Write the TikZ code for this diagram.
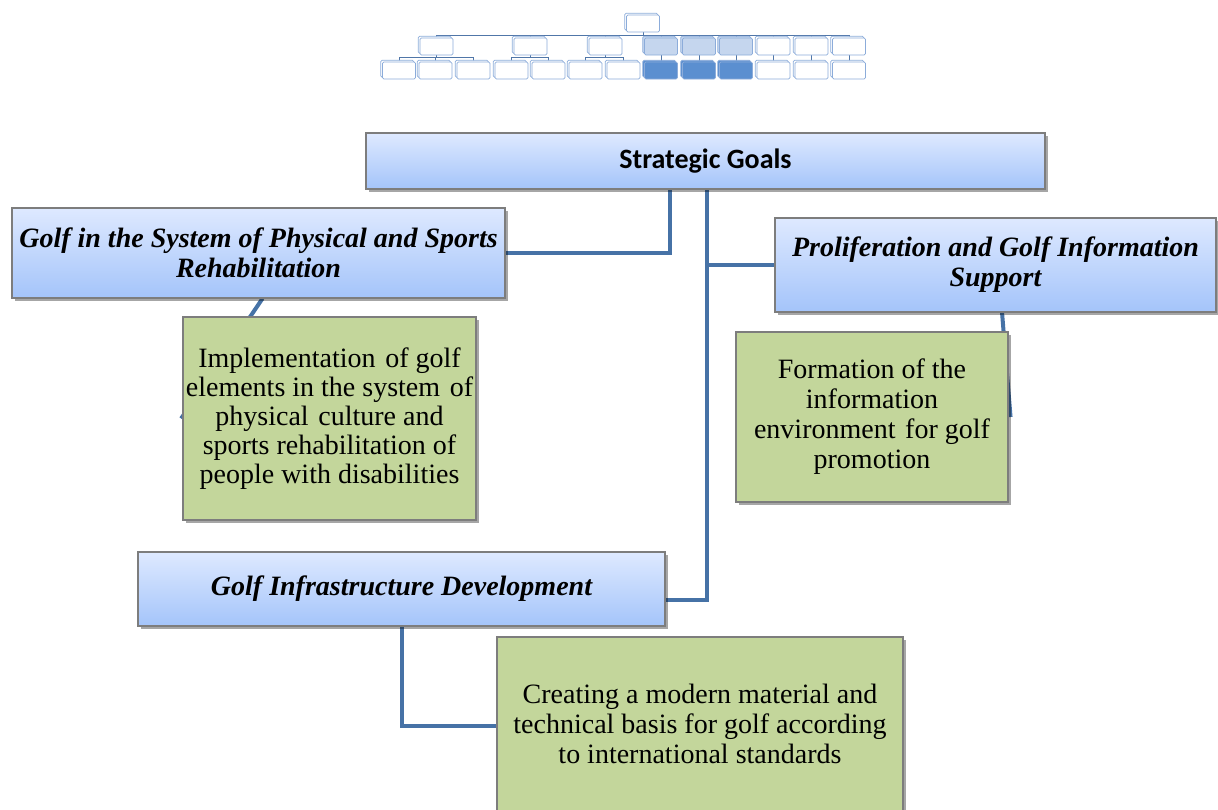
\documentclass[tikz,border=0pt]{standalone}
\usepackage{fontspec}
\setmainfont{Liberation Serif}
\newfontfamily\carlitofont{Carlito}
\usetikzlibrary{shadows,backgrounds}
\definecolor{conn}{RGB}{70,114,166}
\definecolor{topblue}{RGB}{222,233,255}
\definecolor{botblue}{RGB}{164,196,250}
\definecolor{boxline}{RGB}{125,125,125}
\definecolor{greenfill}{RGB}{195,214,155}
\definecolor{minib}{RGB}{140,172,218}
\definecolor{minilight}{RGB}{197,214,238}
\definecolor{minidark}{RGB}{91,143,208}
\definecolor{miniline}{RGB}{80,118,168}
\tikzset{
  bluebox/.style={draw=boxline, line width=0.8pt, top color=topblue, bottom color=botblue,
    inner sep=0pt, align=center,
    drop shadow={shadow xshift=2pt, shadow yshift=-2pt, opacity=0.35, fill=black}},
  greenbox/.style={draw=boxline, line width=0.8pt, fill=greenfill, inner sep=0pt, align=center,
    font=\fontsize{21}{22.5}\selectfont,
    drop shadow={shadow xshift=2pt, shadow yshift=-2pt, opacity=0.35, fill=black}},
  titlefont/.style={font=\fontsize{21}{22.5}\selectfont\bfseries\itshape},
  conn/.style={draw=conn, line width=3pt},
  minibox/.style={draw=minib, line width=0.6pt, fill=white, rounded corners=1pt,
    minimum width=24.75pt, minimum height=12.75pt, inner sep=0pt,
    copy shadow={shadow xshift=-1.3pt, shadow yshift=1.3pt}},
  minicon/.style={draw=miniline, line width=0.7pt}
}
\begin{document}
\begin{tikzpicture}[x=0.75pt,y=-0.75pt]
\path[use as bounding box] (0,0) rectangle (1218,810);

% ---- mini org chart ----
\node[minibox] (m0) at (643,23.5) {};
\foreach \i/\x in {1/436.5,2/530.5,3/605.5,7/773.5,8/811.5,9/849}{
  \node[minibox] (a\i) at (\x,46.5) {};
}
\foreach \i/\x in {4/661,5/699,6/736}{
  \node[minibox, fill=minilight] (a\i) at (\x,46.5) {};
}
\foreach \j/\x in {1/399,2/435.5,3/473.5,4/511.5,5/548.5,6/585.5,7/623.5,11/773.5,12/811.5,13/849}{
  \node[minibox] (b\j) at (\x,70.5) {};
}
\foreach \j/\x in {8/661,9/699,10/736}{
  \node[minibox, fill=minidark] (b\j) at (\x,70.5) {};
}
\begin{scope}[on background layer]
\foreach \i in {1,...,9}{
  \draw[minicon] (m0.south) -- ++(0,3) -| (a\i.north);
}
\foreach \p/\c in {a1/b1,a1/b2,a1/b3,a2/b4,a2/b5,a3/b6,a3/b7}{
  \draw[minicon] (\p.south) -- ++(0,2.5) -| (\c.north);
}
\foreach \p/\c in {a4/b8,a5/b9,a6/b10,a7/b11,a8/b12,a9/b13}{
  \draw[minicon] (\p.south) -- (\c.north);
}
\end{scope}

% ---- main chart ----
\node[bluebox, minimum width=509.25pt, minimum height=42pt,
  font=\carlitofont\bfseries\fontsize{21}{24}\selectfont] (sg) at (705.5,161) {Strategic Goals};
\node[bluebox, titlefont, minimum width=369.75pt, minimum height=67.5pt] (gs) at (258.5,253)
  {Golf in the System of Physical and Sports\\Rehabilitation};
\node[bluebox, titlefont, minimum width=330.75pt, minimum height=70.5pt] (pro) at (995.5,265)
  {Proliferation and Golf Information\\Support};
\node[bluebox, titlefont, minimum width=395.25pt, minimum height=55.5pt] (inf) at (401.5,589)
  {Golf Infrastructure Development};
\node[greenbox, minimum width=219.75pt, minimum height=152.25pt,
  font=\fontsize{21}{21.75}\selectfont] (impl) at (329.5,418.5)
  {Implementation\hspace{2pt} of golf\\elements in the system\hspace{2pt} of\\physical\hspace{2pt} culture and\\sports rehabilitation of\\people with disabilities};
\node[greenbox, minimum width=204pt, minimum height=127.5pt] (form) at (872,417)
  {Formation of the\\information\\environment\hspace{2pt} for golf\\promotion};
\node[greenbox, minimum width=304.5pt, minimum height=133.5pt] (cr) at (700,726)
  {Creating a modern material and\\technical basis for golf according\\to international standards\\[-19pt]\mbox{}};

\begin{scope}[on background layer]
\draw[conn] ([xshift=-26.6pt]sg.south) |- (gs.east);
\draw[conn] ([xshift=1.1pt]sg.south) |- ([yshift=-8.25pt]inf.east);
\draw[conn] ([xshift=1.1pt]sg.south) |- (pro.west);
\draw[conn] ([xshift=3pt]gs.south) -- ([xshift=-1pt]impl.west);
\draw[conn] ([xshift=4.9pt]pro.south) -- ([xshift=1.5pt]form.east);
\draw[conn] (inf.south) |- (cr.west);
\end{scope}
\end{tikzpicture}
\end{document}
